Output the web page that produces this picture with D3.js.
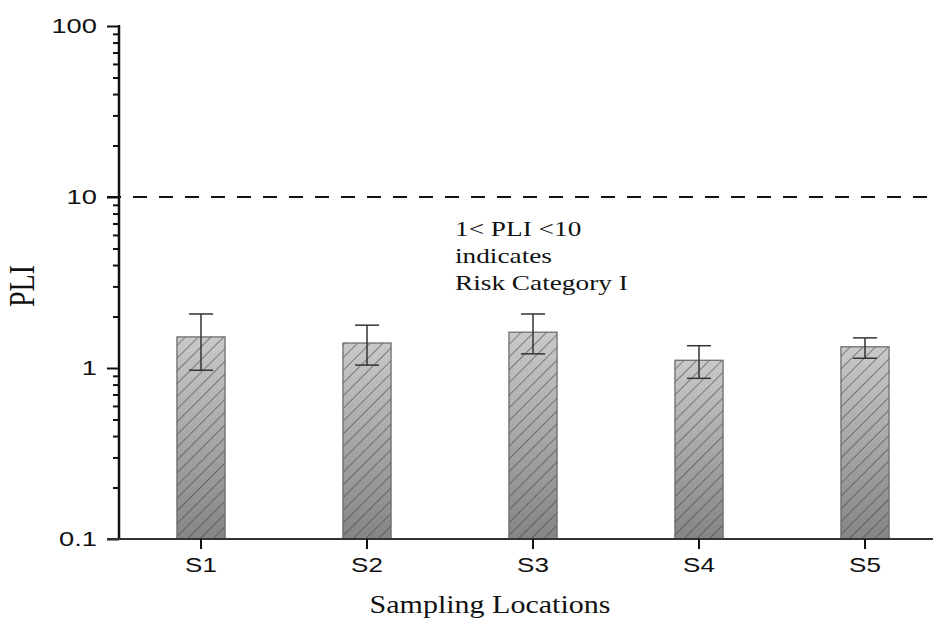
<!DOCTYPE html>
<html>
<head>
<meta charset="utf-8">
<script src="https://cdn.jsdelivr.net/npm/d3@7"></script>
<style>
body { margin: 0; background: #fff; }
svg { display: block; }
</style>
</head>
<body>
<svg id="chart" width="933" height="618"></svg>
<script>
var sites = ['S1', 'S2', 'S3', 'S4', 'S5'];
var pli = [1.52, 1.40, 1.62, 1.11, 1.33];
var errHi = [2.07, 1.78, 2.07, 1.35, 1.50];
var errLo = [0.97, 1.04, 1.21, 0.87, 1.14];
var yTicks = [0.1, 1, 10, 100];
var threshold = 10;
var note = ['1< PLI <10', 'indicates', 'Risk Category I'];

(function() {
var svg = d3.select('#chart');
var left = 119, right = 933, mTop = 26, bottom = 539;
var stretch = 1.3; // source image is stretched sideways

var x = d3.scaleBand().domain(sites).range([118, 948]).paddingInner(0.71).paddingOuter(0.355);
var y = d3.scaleLog().domain([0.1, 100]).range([bottom, mTop]);

var defs = svg.append('defs');
var grad = defs.append('linearGradient').attr('id', 'barGrad')
    .attr('x1', 0).attr('y1', 0).attr('x2', 0).attr('y2', 1);
grad.append('stop').attr('offset', '0%').attr('stop-color', '#c9c9c9');
grad.append('stop').attr('offset', '100%').attr('stop-color', '#858585');

var hatch = defs.append('pattern').attr('id', 'hatch')
    .attr('patternUnits', 'userSpaceOnUse')
    .attr('width', 9).attr('height', 9)
    .attr('patternTransform', 'rotate(45)');
hatch.append('line').attr('x1', 0).attr('y1', 0).attr('x2', 0).attr('y2', 9)
    .attr('stroke', '#3c3c3c').attr('stroke-width', 1.1);

// bars
var bars = svg.append('g');
bars.selectAll('rect.fill').data(pli).enter().append('rect')
    .attr('x', function(d, i){ return x(sites[i]); })
    .attr('y', function(d){ return y(d); })
    .attr('width', x.bandwidth())
    .attr('height', function(d){ return y(0.1) - y(d); })
    .attr('fill', 'url(#barGrad)');
bars.selectAll('rect.hatch').data(pli).enter().append('rect')
    .attr('x', function(d, i){ return x(sites[i]); })
    .attr('y', function(d){ return y(d); })
    .attr('width', x.bandwidth())
    .attr('height', function(d){ return y(0.1) - y(d); })
    .attr('fill', 'url(#hatch)')
    .attr('stroke', '#666').attr('stroke-width', 1.2);

// error bars
var eb = svg.append('g').attr('stroke', '#333').attr('stroke-width', 1.5);
sites.forEach(function(s, i){
  var cx = x(s) + x.bandwidth() / 2;
  eb.append('line').attr('x1', cx).attr('x2', cx).attr('y1', y(errHi[i])).attr('y2', y(errLo[i]));
  eb.append('line').attr('x1', cx - 12).attr('x2', cx + 12).attr('y1', y(errHi[i])).attr('y2', y(errHi[i]));
  eb.append('line').attr('x1', cx - 12).attr('x2', cx + 12).attr('y1', y(errLo[i])).attr('y2', y(errLo[i]));
});

// threshold
svg.append('line')
    .attr('x1', 107).attr('x2', right)
    .attr('y1', y(threshold)).attr('y2', y(threshold))
    .attr('stroke', '#111').attr('stroke-width', 2)
    .attr('stroke-dasharray', '14,12');

// y axis
var minor = [];
[0.1, 1, 10].forEach(function(b){ for (var k = 2; k <= 9; k++) minor.push(b * k); });
var yMinor = d3.axisLeft(y).tickValues(minor).tickSize(6).tickFormat('');
svg.append('g').attr('transform', 'translate(' + left + ',0)').call(yMinor)
    .call(function(g){ g.select('.domain').remove(); })
    .selectAll('line').attr('stroke', '#111').attr('stroke-width', 2);
var yAxis = d3.axisLeft(y).tickValues(yTicks).tickSize(12).tickPadding(5)
    .tickFormat(function(d){ return d < 1 ? '0.1' : d3.format('d')(d); });
var yg = svg.append('g').attr('transform', 'translate(' + left + ',0)').call(yAxis);
yg.select('.domain').attr('d', 'M0,' + (mTop - 1) + 'V' + (bottom + 1)).attr('stroke', '#111').attr('stroke-width', 2.5);
yg.selectAll('line').attr('stroke', '#111').attr('stroke-width', 2);
yg.selectAll('text').attr('font-family', 'Arial, Liberation Sans, sans-serif')
    .attr('font-size', 21).attr('fill', '#111')
    .attr('transform', 'scale(' + stretch + ',1)');

// x axis
var xAxis = d3.axisBottom(x).tickSize(10).tickPadding(9);
var xg = svg.append('g').attr('transform', 'translate(0,' + bottom + ')').call(xAxis);
xg.select('.domain').attr('d', 'M107,0H' + right).attr('stroke', '#333').attr('stroke-width', 2);
xg.selectAll('line').attr('stroke', '#111').attr('stroke-width', 2);
xg.selectAll('text').attr('font-family', 'Arial, Liberation Sans, sans-serif')
    .attr('font-size', 20).attr('fill', '#111')
    .attr('transform', 'scale(' + stretch + ',1)');

// annotation
svg.append('text')
    .attr('transform', 'translate(455,0) scale(' + stretch + ',1)')
    .attr('font-family', 'Liberation Serif, Times New Roman, serif')
    .attr('font-size', 21).attr('fill', '#111')
    .selectAll('tspan').data(note).enter().append('tspan')
    .attr('x', 0).attr('y', function(d, i){ return 236 + i * 27; })
    .text(function(d){ return d; });

// axis titles
svg.append('text').attr('transform', 'translate(34,286) scale(' + stretch + ',1) rotate(-90)')
    .attr('text-anchor', 'middle')
    .attr('font-family', 'Liberation Serif, Times New Roman, serif')
    .attr('font-size', 28).attr('fill', '#111').text('PLI');
svg.append('text').attr('transform', 'translate(490,613) scale(1.2,1)')
    .attr('text-anchor', 'middle')
    .attr('font-family', 'Liberation Serif, Times New Roman, serif')
    .attr('font-size', 25).attr('fill', '#111').text('Sampling Locations');
})();
</script>
</body>
</html>
